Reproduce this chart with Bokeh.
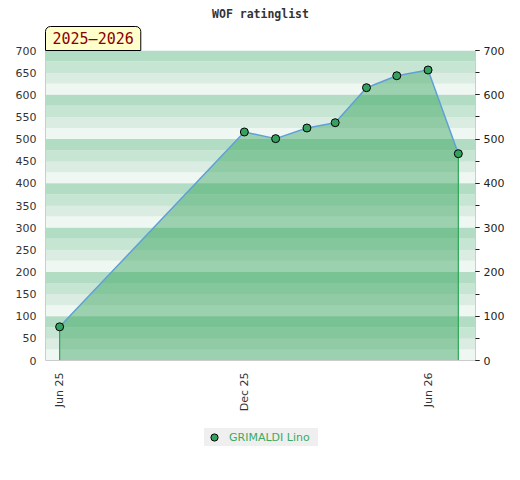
import math
import pandas as pd
from bokeh.plotting import figure
from bokeh.layouts import column
from bokeh.models import (LinearAxis, SingleIntervalTicker, FixedTicker, Range1d,
                          BoxAnnotation, Title, Legend, LegendItem)
from bokeh.embed import file_html
from bokeh.resources import INLINE

# ---------------- data ----------------
title_text = "WOF ratinglist"
season_text = "2025–2026"
player = "GRIMALDI Lino"
dates = ["2025-06-01", "2025-12-01", "2026-01-01", "2026-02-01", "2026-03-01",
         "2026-04-01", "2026-05-01", "2026-06-01", "2026-07-01"]
ratings = [76, 516, 501, 525, 537, 616, 643, 656, 467]
tick_dates = ["2025-06-01", "2025-12-01", "2026-06-01"]
tick_labels = ["Jun 25", "Dec 25", "Jun 26"]
x_start, x_end = "2025-05-18", "2026-07-18"
y_min, y_max = 0, 700
band_colors = ["#eef7f2", "#dbede2", "#c7e5d3", "#b3dcc4"]  # from bottom of each 100 block

MARKER = dict(size=8, fill_color="#35a060", line_color="black", line_width=1)

def ms(d):
    return pd.Timestamp(d).value // 10**6

xs = pd.to_datetime(dates)

p = figure(frame_width=430, frame_height=310, output_backend="svg", toolbar_location=None,
           x_axis_type="datetime",
           x_range=Range1d(pd.Timestamp(x_start), pd.Timestamp(x_end)),
           y_range=Range1d(y_min, y_max),
           min_border_left=45, min_border_right=29, min_border_top=50, min_border_bottom=60)
p.outline_line_color = None
p.background_fill_color = "white"
p.border_fill_color = "white"

# background stripes
for i, lo in enumerate(range(y_min, y_max, 25)):
    p.add_layout(BoxAnnotation(bottom=lo, top=lo + 25, fill_color=band_colors[i % 4],
                               fill_alpha=1.0, line_color=None, level="underlay"))

p.xgrid.visible = False
p.ygrid.ticker = SingleIntervalTicker(interval=50)
p.ygrid.grid_line_color = "#d9d9d9"
p.ygrid.level = "underlay"

# area + line + markers
p.varea(x=xs, y1=0, y2=ratings, fill_color=(41, 158, 80), fill_alpha=0.42)
p.segment(x0=[xs[0], xs[-1]], y0=[0, 0], x1=[xs[0], xs[-1]], y1=[ratings[0], ratings[-1]],
          line_color="#2ea558", line_width=1.2)
p.line(x=xs, y=ratings, line_color="#5fa0d8", line_width=1.5)
p.scatter(x=xs, y=ratings, **MARKER)

# axes
font = "DejaVu Sans"
la = p.yaxis[0]
la.ticker = SingleIntervalTicker(interval=50, num_minor_ticks=0)
la.axis_line_color = "#cccccc"
la.major_tick_line_color = None
la.minor_tick_line_color = None
la.major_tick_out = 0
la.major_tick_in = 0
la.major_label_standoff = 9
la.major_label_text_font = font
la.major_label_text_font_size = "11px"
la.major_label_text_color = "#333333"

ra = LinearAxis(ticker=SingleIntervalTicker(interval=100, num_minor_ticks=2))
ra.axis_line_color = "#cccccc"
ra.major_tick_line_color = "#222222"
ra.minor_tick_line_color = "#222222"
ra.major_tick_out = 4
ra.major_tick_in = 0
ra.minor_tick_out = 4
ra.minor_tick_in = 0
ra.major_label_standoff = 4
ra.major_label_text_font = font
ra.major_label_text_font_size = "11px"
ra.major_label_text_color = "#222222"
p.add_layout(ra, "right")

xa = p.xaxis[0]
xa.ticker = FixedTicker(ticks=[ms(d) for d in tick_dates])
xa.major_label_overrides = {ms(d): lab for d, lab in zip(tick_dates, tick_labels)}
xa.major_label_orientation = math.pi / 2
xa.axis_line_color = "#cccccc"
xa.major_tick_line_color = None
xa.minor_tick_line_color = None
xa.major_tick_out = 0
xa.major_tick_in = 0
xa.major_label_standoff = 12
xa.major_label_text_font = font
xa.major_label_text_font_size = "11px"
xa.major_label_text_color = "#333333"

# titles
p.title = Title(text=title_text, align="center", text_font="DejaVu Sans Mono",
                text_font_style="bold", text_font_size="11.5px", text_color="#333333",
                standoff=8)
season = Title(text=season_text, align="left", text_font="DejaVu Sans Mono",
               text_font_style="normal", text_font_size="15px", text_color="#8b0000",
               standoff=0, padding=dict(left=7, right=7, top=3, bottom=3),
               background_fill_color="#ffffcc", border_line_color="black", border_line_width=1,
               border_radius=dict(top_left=5, top_right=5, bottom_right=0, bottom_left=0))
p.add_layout(season, "above")

# legend strip below the chart (proxy marker kept outside its visible range)
lg = figure(width=504, height=44, output_backend="svg", toolbar_location=None,
            x_range=Range1d(0, 1), y_range=Range1d(0, 1),
            min_border=0, outline_line_color=None)
lg.axis.visible = False
lg.grid.visible = False
lg.background_fill_color = "white"
lg.border_fill_color = "white"
proxy = lg.scatter(x=[-5], y=[-5], **MARKER)
legend = Legend(items=[LegendItem(label=player, renderers=[proxy])], location=(159, 18),
                orientation="horizontal", margin=0, padding=0, spacing=0,
                background_fill_color="#efefef", background_fill_alpha=1.0,
                border_line_color=None, glyph_width=20, glyph_height=18,
                label_height=18, label_width=89, label_standoff=5,
                label_text_font=font, label_text_font_size="11px", label_text_color="#3aaa64")
lg.add_layout(legend, "center")

layout = column(p, lg, spacing=0)
open("out.html", "w").write(file_html(layout, INLINE))
